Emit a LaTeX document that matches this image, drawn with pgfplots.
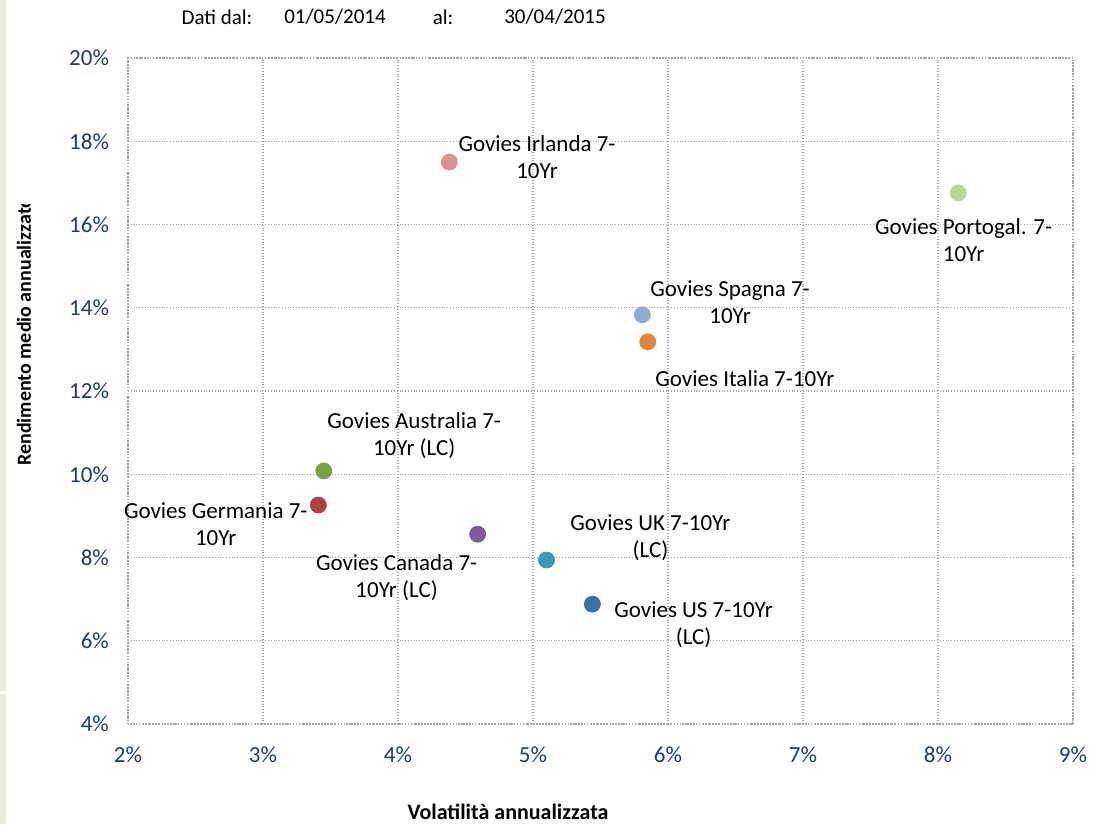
\documentclass[border=0pt]{standalone}
\usepackage{fontspec}
\setmainfont{Carlito}
\usepackage{pgfplots}
\pgfplotsset{compat=1.18}

\definecolor{navy}{HTML}{1F3B73}
\definecolor{gridgray}{HTML}{A6A6A6}
\definecolor{beige}{HTML}{ECE9DF}
\definecolor{cIrl}{HTML}{D69496}
\definecolor{cPor}{HTML}{BFD49A}
\definecolor{cSpa}{HTML}{93AAD4}
\definecolor{cIta}{HTML}{E3843B}
\definecolor{cAus}{HTML}{7BA043}
\definecolor{cGer}{HTML}{B0403E}
\definecolor{cCan}{HTML}{7A5C9E}
\definecolor{cUK}{HTML}{3A9AAF}
\definecolor{cUS}{HTML}{3F6DA6}

\tikzset{lab/.style={align=center, inner sep=0pt, font=\fontsize{11.5}{13.5}\selectfont}}

\begin{document}
\begin{tikzpicture}
% frame in pixels: 1px = 0.5pt, y downwards
\begin{scope}[x=0.5pt,y=-0.5pt]
\path (0,0) rectangle (1105,824);
\fill[beige] (0,0) rectangle (6,691);
\fill[beige] (0,694) rectangle (6,824);
\node[font=\fontsize{10.5}{12}\selectfont] at (217,17) {Dati dal:};
\node[font=\fontsize{10.5}{12}\selectfont] at (335,17) {01/05/2014};
\node[font=\fontsize{10.5}{12}\selectfont] at (443,17) {al:};
\node[font=\fontsize{10.5}{12}\selectfont] at (555,17) {30/04/2015};
\node[font=\bfseries\fontsize{11}{13}\selectfont] at (508,812) {Volatilità annualizzata};
\begin{scope}
\clip (0,204) rectangle (60,824);
\node[rotate=90, anchor=west, inner sep=0pt, font=\bfseries\fontsize{10}{12}\selectfont] at (24,466) {Rendimento medio annualizzato};
\end{scope}
\end{scope}

\begin{axis}[
  at={(64pt,-362pt)}, anchor=south west,
  width=472.5pt, height=333pt, scale only axis,
  xmin=2, xmax=9, ymin=4, ymax=20,
  xtick={2,...,9},
  xticklabels={2\%,3\%,4\%,5\%,6\%,7\%,8\%,9\%},
  ytick={4,6,...,20},
  yticklabels={4\%,6\%,8\%,10\%,12\%,14\%,16\%,18\%,20\%},
  major tick length=0pt,
  tick label style={font=\fontsize{11.5}{13.5}\selectfont, text=navy},
  xticklabel style={yshift=-8pt},
  yticklabel style={xshift=-6pt},
  grid=major,
  major grid style={densely dotted, gridgray, line width=0.6pt},
  axis line style={densely dotted, gridgray, line width=0.6pt},
  clip=false,
  only marks,
]
\addplot[mark=*, mark size=4pt, cIrl] coordinates {(4.38,17.50)};
\addplot[mark=*, mark size=4pt, cPor] coordinates {(8.15,16.76)};
\addplot[mark=*, mark size=4pt, cSpa] coordinates {(5.81,13.83)};
\addplot[mark=*, mark size=4pt, cIta] coordinates {(5.85,13.18)};
\addplot[mark=*, mark size=4pt, cAus] coordinates {(3.45,10.08)};
\addplot[mark=*, mark size=4pt, cGer] coordinates {(3.41,9.26)};
\addplot[mark=*, mark size=4pt, cCan] coordinates {(4.59,8.56)};
\addplot[mark=*, mark size=4pt, cUK] coordinates {(5.10,7.94)};
\addplot[mark=*, mark size=4pt, cUS] coordinates {(5.44,6.88)};

\node[lab] at (axis cs:5.03,17.62) {Govies Irlanda 7-\\10Yr};
\node[lab] at (axis cs:8.19,15.63) {Govies Portogal. 7-\\10Yr};
\node[lab] at (axis cs:6.46,14.14) {Govies Spagna 7-\\10Yr};
\node[lab] at (axis cs:6.57,12.31) {Govies Italia 7-10Yr};
\node[lab] at (axis cs:4.12,10.94) {Govies Australia 7-\\10Yr (LC)};
\node[lab] at (axis cs:2.65,8.80) {Govies Germania 7-\\10Yr};
\node[lab] at (axis cs:3.99,7.51) {Govies Canada 7-\\10Yr (LC)};
\node[lab] at (axis cs:5.87,8.47) {Govies UK 7-10Yr\\(LC)};
\node[lab] at (axis cs:6.19,6.38) {Govies US 7-10Yr\\(LC)};
\end{axis}
\end{tikzpicture}
\end{document}
